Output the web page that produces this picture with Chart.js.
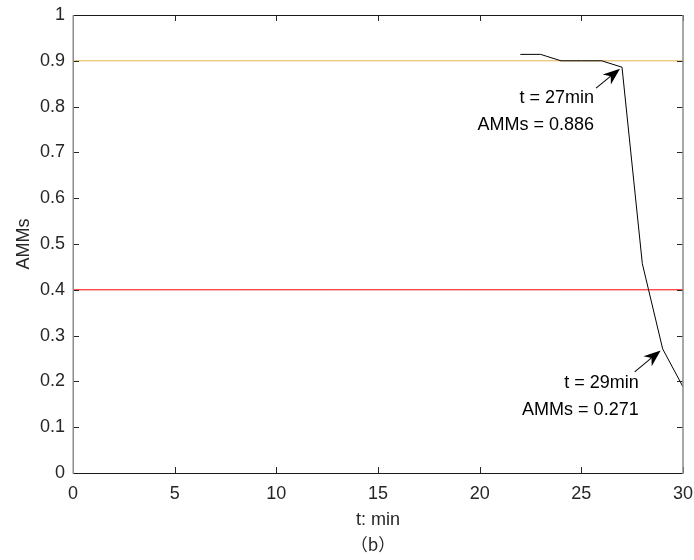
<!DOCTYPE html>
<html>
<head>
<meta charset="utf-8">
<script src="https://cdn.jsdelivr.net/npm/chart.js@4/dist/chart.umd.min.js"></script>
<style>
  html, body { margin: 0; padding: 0; background: #fff; }
  #wrap { width: 694px; height: 560px; }
</style>
</head>
<body>
<div id="wrap"><canvas id="c" width="694" height="560"></canvas></div>
<script>
// data
var tValues = [22, 23, 24, 25, 26, 27, 28, 29, 30];
var ammsValues = [0.914, 0.914, 0.9, 0.9, 0.9, 0.886, 0.457, 0.271, 0.188];
var upperLevel = [0.9, 0.9];
var lowerLevel = [0.4, 0.4];
var levelT = [0, 30];
var xTicks = [0, 5, 10, 15, 20, 25, 30];
var yTicks = [0, 0.1, 0.2, 0.3, 0.4, 0.5, 0.6, 0.7, 0.8, 0.9, 1];
// annotated points: [t, value]
var marks = [[27, 0.886], [29, 0.271]];

var FONT = "'Liberation Sans', Arial, sans-serif";
var TXT = '#262626';

function pts(xs, ys) {
    return xs.map(function (x, i) { return { x: x, y: ys[i] }; });
}

function arrow(ctx, x0, y0, x1, y1) {
    var a = Math.atan2(y1 - y0, x1 - x0);
    var L = 17, W = 6.5;
    ctx.save();
    ctx.translate(x1, y1);
    ctx.rotate(a);
    var len = Math.hypot(x1 - x0, y1 - y0);
    ctx.strokeStyle = '#000';
    ctx.lineWidth = 1;
    ctx.beginPath();
    ctx.moveTo(-len, 0);
    ctx.lineTo(-L * 0.7, 0);
    ctx.stroke();
    ctx.fillStyle = '#000';
    ctx.beginPath();
    ctx.moveTo(0, 0);
    ctx.lineTo(-L, -W);
    ctx.lineTo(-L * 0.7, 0);
    ctx.lineTo(-L, W);
    ctx.closePath();
    ctx.fill();
    ctx.restore();
}

var frame = {
    id: 'frame',
    afterDraw: function (chart) {
        var ctx = chart.ctx, a = chart.chartArea;
        var xs = chart.scales.x, ys = chart.scales.y;
        ctx.save();
        // inward ticks
        ctx.strokeStyle = '#262626';
        ctx.lineWidth = 1;
        ctx.beginPath();
        yTicks.forEach(function (v) {
            var y = Math.round(ys.getPixelForValue(v)) + 0.5;
            ctx.moveTo(a.left, y); ctx.lineTo(a.left + 6, y);
            ctx.moveTo(a.right, y); ctx.lineTo(a.right - 6, y);
        });
        xTicks.forEach(function (v) {
            var x = Math.round(xs.getPixelForValue(v)) + 0.5;
            ctx.moveTo(x, a.bottom); ctx.lineTo(x, a.bottom - 6);
            ctx.moveTo(x, a.top); ctx.lineTo(x, a.top + 6);
        });
        ctx.stroke();
        // box
        ctx.strokeStyle = '#1a1a1a';
        ctx.beginPath();
        ctx.moveTo(a.left, a.top + 0.5); ctx.lineTo(a.right, a.top + 0.5);
        ctx.moveTo(a.left, a.bottom + 0.5); ctx.lineTo(a.right, a.bottom + 0.5);
        ctx.stroke();
        ctx.strokeStyle = '#8c8c8c';
        ctx.lineWidth = 1.5;
        ctx.beginPath();
        ctx.moveTo(a.left + 0.25, a.top); ctx.lineTo(a.left + 0.25, a.bottom + 1);
        ctx.moveTo(a.right, a.top); ctx.lineTo(a.right, a.bottom + 1);
        ctx.stroke();

        // annotations
        var offs = [
            { tail: [-26, 21], text: [-28, 31] },
            { tail: [-28, 23], text: [-24, 34] }
        ];
        ctx.font = '18px ' + FONT;
        ctx.fillStyle = '#000';
        ctx.textAlign = 'right';
        ctx.textBaseline = 'middle';
        marks.forEach(function (m, i) {
            var px = xs.getPixelForValue(m[0]), py = ys.getPixelForValue(m[1]);
            var o = offs[i];
            arrow(ctx, px + o.tail[0], py + o.tail[1], px - 2, py + 1.5);
            ctx.fillText('t = ' + m[0] + 'min', px + o.text[0], py + o.text[1]);
            ctx.fillText('AMMs = ' + m[1].toFixed(3), px + o.text[0], py + o.text[1] + 27);
        });

        // sub-figure label
        ctx.font = "17px 'Noto Sans CJK SC', sans-serif";
        ctx.fillStyle = TXT;
        ctx.textAlign = 'center';
        ctx.fillText('\uFF08b\uFF09', (a.left + a.right) / 2 - 5, 545);
        ctx.restore();
    }
};

new Chart(document.getElementById('c'), {
    type: 'line',
    data: {
        datasets: [{
            data: pts(levelT, upperLevel),
            borderColor: '#e8b450',
            borderWidth: 1,
            pointRadius: 0,
            order: 3
        }, {
            data: pts(levelT, lowerLevel),
            borderColor: '#ff0000',
            borderWidth: 1,
            pointRadius: 0,
            order: 2
        }, {
            data: pts(tValues, ammsValues),
            borderColor: '#000',
            borderWidth: 1,
            pointRadius: 0,
            tension: 0,
            order: 1
        }]
    },
    options: {
        responsive: false,
        animation: false,
        events: [],
        layout: { padding: { left: 0, right: 11, top: 15, bottom: 0 } },
        plugins: { legend: { display: false }, tooltip: { enabled: false } },
        scales: {
            x: {
                type: 'linear',
                min: 0, max: 30,
                afterBuildTicks: function (s) { s.ticks = xTicks.map(function (v) { return { value: v }; }); },
                afterFit: function (s) { s.height = 87; s.paddingLeft = 0; s.paddingRight = 0; },
                grid: { display: false, drawTicks: false },
                border: { display: false },
                ticks: { color: TXT, padding: 10, maxRotation: 0, font: { family: FONT, size: 18 } },
                title: {
                    display: true,
                    text: 't: min',
                    color: TXT,
                    font: { family: FONT, size: 18, lineHeight: 1.2 },
                    padding: { top: 0, bottom: 29 }
                }
            },
            y: {
                min: 0, max: 1,
                afterBuildTicks: function (s) { s.ticks = yTicks.map(function (v) { return { value: v }; }); },
                afterFit: function (s) { s.width = 73; s.paddingTop = 0; s.paddingBottom = 0; },
                grid: { display: false, drawTicks: false },
                border: { display: false },
                ticks: {
                    color: TXT, padding: 8, font: { family: FONT, size: 18 },
                    callback: function (v) { return String(+v.toFixed(1)); }
                },
                title: {
                    display: true,
                    text: 'AMMs',
                    color: TXT,
                    font: { family: FONT, size: 18, lineHeight: 1.2 },
                    padding: { top: 13, bottom: 0 }
                }
            }
        }
    },
    plugins: [frame]
});
</script>
</body>
</html>
